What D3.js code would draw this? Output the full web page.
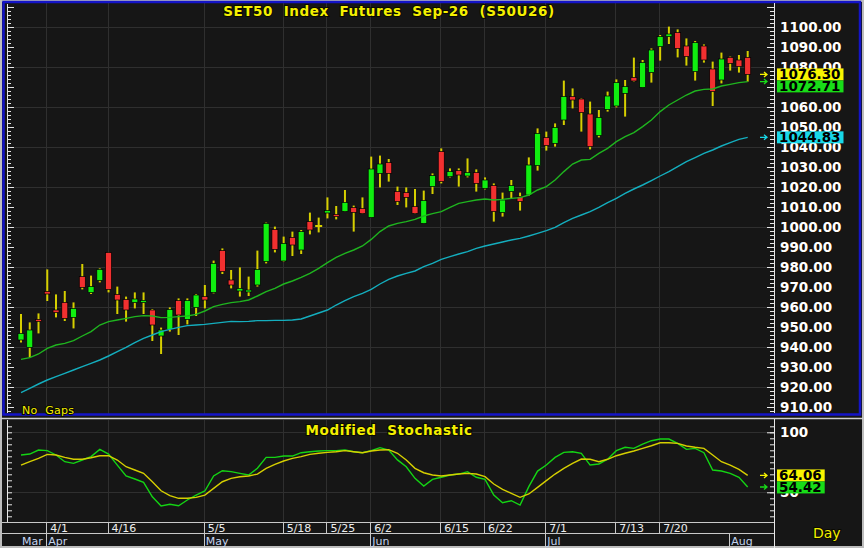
<!DOCTYPE html>
<html>
<head>
<meta charset="utf-8">
<script src="https://cdn.jsdelivr.net/npm/d3@7"></script>
<style>
  body { margin: 0; background: #161616; }
  svg text { font-family: "DejaVu Sans", Verdana, sans-serif; }
</style>
</head>
<body>
<div id="chart"></div>
<script>
// trading days shown on the chart
const dates = [
  '3/27', '3/30', '3/31', '4/1', '4/2', '4/3', '4/7', '4/8', '4/9', '4/10',
  '4/16', '4/17', '4/20', '4/21', '4/22', '4/23', '4/24', '4/27', '4/28', '4/29',
  '4/30', '5/5', '5/6', '5/7', '5/8', '5/11', '5/12', '5/13', '5/14', '5/15',
  '5/18', '5/19', '5/20', '5/21', '5/22', '5/25', '5/26', '5/27', '5/28', '5/29',
  '6/2', '6/4', '6/5', '6/8', '6/9', '6/10', '6/11', '6/12', '6/15', '6/16',
  '6/17', '6/18', '6/19', '6/22', '6/23', '6/24', '6/25', '6/26', '6/29', '6/30',
  '7/1', '7/2', '7/3', '7/6', '7/7', '7/8', '7/9', '7/10', '7/13', '7/14',
  '7/15', '7/16', '7/17', '7/20', '7/21', '7/22', '7/23', '7/24', '7/27', '7/30',
  '7/31', '8/3', '8/4', '8/5',
];

const open = [
  943.5, 939.8, 953.8, 967.8, 958.5, 962.3, 954.8, 975.2, 967.2, 973.2,
  987.2, 966.3, 963.8, 962.2, 962.2, 958.5, 945.5, 948.8, 963.2, 953.8,
  959.7, 965.2, 967.3, 988.2, 973.5, 968.0, 967.5, 971.0, 982.7, 998.8,
  983.0, 994.8, 988.5, 1002.7, 1000.5, 1007.0, 1006.3, 1007.8, 1009.7, 1009.2,
  1004.8, 1026.8, 1032.2, 1017.7, 1017.2, 1010.2, 1001.8, 1020.2, 1037.7, 1025.2,
  1028.2, 1025.5, 1027.2, 1019.3, 1020.7, 1007.2, 1017.7, 1015.2, 1016.0, 1030.7,
  1044.7, 1041.8, 1053.5, 1065.2, 1064.0, 1056.5, 1045.7, 1058.8, 1060.5, 1066.8,
  1074.8, 1069.8, 1077.2, 1090.2, 1095.2, 1097.2, 1090.5, 1077.7, 1090.5, 1079.0,
  1073.5, 1084.8, 1083.5, 1084.8,
];
const high = [
  956.5, 952.3, 956.8, 978.8, 966.3, 968.0, 962.3, 981.5, 975.7, 979.3,
  987.3, 970.2, 965.2, 967.3, 967.3, 959.0, 949.7, 959.8, 964.3, 964.3,
  966.5, 971.0, 983.2, 989.3, 978.5, 979.8, 975.2, 988.2, 1002.2, 1000.2,
  995.2, 997.7, 998.5, 1007.2, 1004.7, 1014.8, 1010.5, 1018.5, 1010.7, 1014.8,
  1035.2, 1035.7, 1034.0, 1020.2, 1019.8, 1019.0, 1018.2, 1026.8, 1039.3, 1029.3,
  1029.3, 1034.3, 1028.8, 1024.8, 1021.8, 1017.2, 1023.5, 1017.2, 1034.8, 1049.3,
  1047.7, 1051.8, 1073.2, 1069.3, 1064.3, 1062.7, 1058.5, 1067.7, 1073.8, 1073.5,
  1084.7, 1083.5, 1089.3, 1096.0, 1100.2, 1098.8, 1094.3, 1093.0, 1091.3, 1082.7,
  1087.2, 1085.2, 1086.0, 1088.0,
];
const low = [
  942.2, 934.8, 946.8, 963.0, 954.8, 953.0, 949.3, 968.8, 966.5, 972.3,
  967.3, 956.5, 952.7, 959.3, 956.5, 943.0, 936.5, 947.7, 946.0, 951.3,
  955.5, 959.3, 966.8, 976.5, 969.3, 965.2, 965.5, 970.2, 981.8, 987.3,
  982.7, 985.5, 986.5, 996.3, 997.3, 1004.3, 1003.8, 1007.7, 997.7, 1006.5,
  1004.8, 1019.8, 1022.7, 1011.0, 1009.8, 1006.5, 1001.8, 1016.5, 1021.8, 1024.8,
  1020.2, 1024.8, 1017.7, 1018.8, 1002.7, 1005.2, 1014.3, 1008.2, 1015.5, 1028.2,
  1038.2, 1040.2, 1051.0, 1059.3, 1047.7, 1038.8, 1044.8, 1057.7, 1059.8, 1055.2,
  1072.7, 1069.8, 1072.2, 1083.2, 1091.5, 1084.8, 1080.7, 1073.2, 1082.2, 1060.5,
  1071.8, 1078.2, 1077.2, 1072.7,
];
const close = [
  946.8, 948.5, 953.2, 966.5, 957.2, 954.3, 959.3, 969.8, 970.2, 978.8,
  968.8, 963.5, 958.5, 964.0, 963.3, 951.0, 948.5, 958.8, 956.0, 963.2,
  966.0, 963.5, 981.8, 977.7, 971.0, 969.3, 968.5, 978.8, 1001.8, 988.8,
  991.8, 991.0, 997.7, 998.5, 1000.5, 1008.2, 1005.2, 1012.3, 1007.3, 1006.8,
  1029.0, 1031.5, 1026.8, 1012.7, 1014.8, 1006.8, 1013.2, 1025.7, 1022.7, 1027.7,
  1026.0, 1027.2, 1021.8, 1023.5, 1007.7, 1013.5, 1020.7, 1012.7, 1031.0, 1046.8,
  1040.7, 1049.8, 1065.2, 1063.5, 1057.2, 1040.2, 1054.8, 1065.5, 1072.2, 1070.2,
  1073.0, 1082.2, 1088.5, 1095.2, 1096.5, 1089.3, 1085.2, 1092.2, 1083.5, 1067.7,
  1084.0, 1081.8, 1080.2, 1076.3,
];

// moving averages
const maFast = [
  933.8, 934.7, 936.5, 939.3, 941.0, 941.8, 943.2, 945.5, 947.7, 951.0,
  952.7, 953.5, 954.3, 955.2, 955.7, 955.5, 954.7, 954.8, 955.2, 955.5,
  956.3, 958.0, 960.2, 961.3, 962.2, 962.7, 963.5, 965.5, 967.7, 969.3,
  971.5, 973.0, 974.8, 976.8, 979.3, 982.2, 984.8, 986.8, 988.5, 990.5,
  993.8, 997.7, 1000.5, 1001.8, 1002.7, 1003.8, 1005.5, 1006.7, 1007.7, 1009.8,
  1011.8, 1012.7, 1013.5, 1014.0, 1013.5, 1013.8, 1014.3, 1014.7, 1016.0, 1018.5,
  1020.2, 1023.5, 1027.7, 1031.5, 1033.5, 1033.8, 1036.8, 1039.3, 1042.7, 1045.2,
  1047.2, 1050.2, 1053.5, 1057.7, 1061.0, 1063.5, 1066.0, 1068.0, 1068.8, 1069.0,
  1070.5, 1071.3, 1072.2, 1072.71,
];
const maSlow = [
  917.2, 919.3, 921.5, 923.5, 925.2, 926.8, 928.5, 930.2, 931.8, 933.5,
  935.5, 937.7, 939.8, 942.2, 944.3, 946.0, 947.7, 948.8, 949.8, 950.7,
  951.0, 951.3, 951.8, 952.3, 952.8, 952.7, 952.8, 953.2, 953.2, 953.3,
  953.3, 953.5, 954.0, 955.5, 957.0, 958.5, 961.0, 963.2, 965.2, 966.8,
  968.8, 971.5, 973.8, 975.5, 976.8, 978.0, 980.2, 981.8, 983.8, 985.2,
  986.5, 987.7, 989.3, 990.5, 991.5, 992.5, 993.5, 994.3, 995.5, 996.8,
  998.2, 999.8, 1002.2, 1004.3, 1006.0, 1007.7, 1009.8, 1012.2, 1014.3, 1016.8,
  1019.0, 1021.0, 1023.2, 1025.5, 1027.7, 1030.2, 1032.7, 1034.7, 1036.8, 1038.5,
  1040.5, 1042.2, 1043.8, 1044.83,
];

// modified stochastic
const stochK = [
  81.1, 81.9, 85.2, 84.7, 81.1, 75.5, 74.1, 76.9, 79.7, 85.8,
  81.9, 72.7, 63.6, 61.1, 58.3, 46.3, 38.6, 40.0, 38.8, 43.6,
  47.7, 51.1, 63.6, 68.0, 67.2, 65.8, 64.4, 70.0, 79.1, 79.1,
  80.2, 80.2, 83.0, 83.8, 84.4, 84.7, 84.7, 85.2, 83.8, 83.0,
  84.7, 87.2, 85.2, 77.0, 71.3, 61.6, 55.2, 60.8, 62.5, 64.4,
  65.2, 67.2, 62.5, 60.8, 47.7, 41.3, 43.0, 39.4, 54.7, 67.7,
  72.7, 79.1, 83.3, 83.8, 82.5, 72.7, 73.6, 77.5, 84.7, 87.5,
  86.6, 90.2, 93.0, 94.4, 94.4, 90.8, 85.8, 86.6, 83.0, 68.6,
  67.7, 65.8, 62.5, 54.42,
];
const stochD = [
  72.7, 75.5, 78.3, 81.6, 81.1, 79.1, 77.5, 77.5, 78.8, 80.5,
  80.5, 76.9, 71.3, 68.6, 65.8, 58.8, 51.3, 47.2, 45.0, 45.0,
  45.8, 47.7, 53.3, 58.8, 61.6, 63.0, 63.6, 65.2, 70.0, 73.3,
  76.1, 78.3, 79.7, 81.6, 82.5, 83.3, 83.8, 84.7, 83.8, 83.0,
  84.4, 85.2, 85.5, 82.5, 76.9, 70.0, 66.3, 64.4, 63.6, 64.4,
  65.2, 65.8, 65.2, 63.0, 56.9, 52.5, 49.1, 45.8, 48.6, 54.1,
  59.7, 65.2, 70.0, 74.1, 77.7, 77.5, 75.5, 77.5, 80.5, 82.5,
  84.4, 86.6, 88.8, 91.3, 91.3, 90.8, 88.6, 87.5, 86.6, 81.1,
  75.5, 72.7, 69.1, 64.06,
];

const dayTicks = ['4/1', '4/16', '5/5', '5/18', '5/25', '6/2', '6/15', '6/22', '7/1', '7/13', '7/20'];
const monthNames = ['Mar', 'Apr', 'May', 'Jun', 'Jul', 'Aug'];
const monthStarts = ['3/27', '4/1', '5/5', '6/2', '7/1', '8/3'];

const title = 'SET50  Index  Futures  Sep-26  (S50U26)';
const stochTitle = 'Modified  Stochastic';

const width = 864;
const height = 548;
const plotL = 8;
const plotR = 774;
const price = { top: 3, bottom: 414 };
const stoch = { top: 420, bottom: 522 };

const svg = d3.select('#chart')
  .append('svg')
  .attr('width', width)
  .attr('height', height);

svg.append('rect')
  .attr('width', width)
  .attr('height', height)
  .attr('fill', '#161616');

const x = d3.scalePoint()
  .domain(dates)
  .range([21, 747.7]);

const y = d3.scaleLinear()
  .domain([910, 1100])
  .range([407, 27]);

const ys = d3.scaleLinear()
  .domain([50, 100])
  .range([492.3, 432.3]);

const defs = svg.append('defs');
defs.append('clipPath').attr('id', 'clipPrice')
  .append('rect')
  .attr('x', plotL).attr('y', price.top)
  .attr('width', plotR - plotL).attr('height', price.bottom - price.top);
defs.append('clipPath').attr('id', 'clipStoch')
  .append('rect')
  .attr('x', plotL).attr('y', stoch.top)
  .attr('width', plotR - plotL).attr('height', stoch.bottom - stoch.top);

// grid
const grid = svg.append('g').attr('stroke', '#2f2f2f').attr('stroke-width', 1);
grid.selectAll('.hp')
  .data(d3.range(920, 1101, 20))
  .join('line')
    .attr('x1', plotL).attr('x2', plotR)
    .attr('y1', d => Math.round(y(d)) + 0.5)
    .attr('y2', d => Math.round(y(d)) + 0.5);
grid.selectAll('.hs')
  .data([50, 100])
  .join('line')
    .attr('x1', plotL).attr('x2', plotR)
    .attr('y1', d => Math.round(ys(d)) + 0.5)
    .attr('y2', d => Math.round(ys(d)) + 0.5);
[price, stoch].forEach((p) => {
  grid.append('g').selectAll('line')
    .data(dayTicks)
    .join('line')
      .attr('x1', d => Math.round(x(d)) - 0.5)
      .attr('x2', d => Math.round(x(d)) - 0.5)
      .attr('y1', p.top)
      .attr('y2', p.bottom);
});

// candles
const bars = dates.map((d, i) => ({
  date: d, o: open[i], h: high[i], l: low[i], c: close[i],
}));

const candles = svg.append('g').attr('clip-path', 'url(#clipPrice)');

candles.selectAll('.wick')
  .data(bars)
  .join('line')
    .attr('x1', d => x(d.date))
    .attr('x2', d => x(d.date))
    .attr('y1', d => y(d.h))
    .attr('y2', d => y(d.l))
    .attr('stroke', '#d6cf00')
    .attr('stroke-width', 2);

candles.selectAll('.body')
  .data(bars.filter(d => Math.abs(d.o - d.c) >= 0.3))
  .join('rect')
    .attr('x', d => x(d.date) - 3)
    .attr('y', d => y(Math.max(d.o, d.c)))
    .attr('width', 6)
    .attr('height', d => Math.max(2, y(Math.min(d.o, d.c)) - y(Math.max(d.o, d.c))))
    .attr('fill', d => (d.c > d.o ? '#10ee10' : '#f23030'))
    .attr('stroke', '#000')
    .attr('stroke-width', 0.7);

// doji
candles.selectAll('.doji')
  .data(bars.filter(d => Math.abs(d.o - d.c) < 0.3))
  .join('line')
    .attr('x1', d => x(d.date) - 3.5)
    .attr('x2', d => x(d.date) + 3.5)
    .attr('y1', d => y(d.c))
    .attr('y2', d => y(d.c))
    .attr('stroke', '#d6cf00')
    .attr('stroke-width', 2);

const maLine = vals => d3.line()
  .x((d, i) => x(dates[i]))
  .y(d => y(d))(vals);

candles.append('path')
  .attr('d', maLine(maSlow))
  .attr('fill', 'none')
  .attr('stroke', '#14aebe')
  .attr('stroke-width', 1.4);

candles.append('path')
  .attr('d', maLine(maFast))
  .attr('fill', 'none')
  .attr('stroke', '#1fb51f')
  .attr('stroke-width', 1.4);

// stochastic lines
const stochG = svg.append('g').attr('clip-path', 'url(#clipStoch)');
const stLine = d3.line()
  .x((d, i) => x(dates[i]))
  .y(d => ys(d));

stochG.append('path')
  .attr('d', stLine(stochK))
  .attr('fill', 'none')
  .attr('stroke', '#14d414')
  .attr('stroke-width', 1.4);
stochG.append('path')
  .attr('d', stLine(stochD))
  .attr('fill', 'none')
  .attr('stroke', '#d6cf00')
  .attr('stroke-width', 1.4);

// axes
function tickAxis(axis, tx, values, size) {
  const g = svg.append('g')
    .attr('transform', `translate(${tx},0)`)
    .call(axis.tickValues(values).tickSize(size).tickFormat(''));
  g.select('.domain').remove();
  g.selectAll('line').attr('stroke', '#e8e8e8');
}

tickAxis(d3.axisLeft(y), plotR, d3.range(908, 1112, 2), 4);
tickAxis(d3.axisLeft(y), plotR, d3.range(910, 1111, 10), 7);
tickAxis(d3.axisRight(y), plotL, d3.range(908, 1112, 2), 3);
tickAxis(d3.axisRight(y), plotL, d3.range(910, 1111, 10), 6);
tickAxis(d3.axisLeft(ys), plotR, d3.range(30, 110, 5), 4);
tickAxis(d3.axisLeft(ys), plotR, [50, 100], 7);
tickAxis(d3.axisRight(ys), plotL, d3.range(30, 110, 5), 4);

function labelAxis(scale, values, fmt) {
  const g = svg.append('g')
    .attr('transform', `translate(${plotR},0)`)
    .call(d3.axisRight(scale).tickValues(values).tickSize(0).tickPadding(6).tickFormat(fmt));
  g.select('.domain').remove();
  g.selectAll('text')
    .attr('fill', '#ffffff')
    .attr('stroke', '#1a1208')
    .attr('stroke-width', 2.2)
    .attr('paint-order', 'stroke')
    .style('font-size', '13.5px')
    .style('font-weight', 'bold')
    .style('font-family', '"DejaVu Sans", Verdana, sans-serif');
}

labelAxis(y, d3.range(910, 1101, 10), d3.format('.2f'));
labelAxis(ys, [50, 100], d3.format('d'));

// frames
svg.append('rect')
  .attr('x', 1).attr('y', 1)
  .attr('width', width - 2).attr('height', height - 2)
  .attr('fill', 'none')
  .attr('stroke', '#bdbdbd')
  .attr('stroke-width', 2);

svg.append('rect')
  .attr('x', 3.5).attr('y', 2)
  .attr('width', 856.5).attr('height', 412.5)
  .attr('fill', 'none')
  .attr('stroke', '#1414c8')
  .attr('stroke-width', 2.5);

svg.append('line')
  .attr('x1', 1).attr('x2', width - 1)
  .attr('y1', 418.5).attr('y2', 418.5)
  .attr('stroke', '#cfcfcf')
  .attr('stroke-width', 1.5);

svg.append('g')
  .attr('stroke', '#e8e8e8')
  .selectAll('line')
  .data([
    [plotR + 0.5, price.top, plotR + 0.5, price.bottom - 1],
    [plotR + 0.5, 419, plotR + 0.5, height],
    [plotL - 0.5, price.top + 1, plotL - 0.5, price.bottom - 1],
    [plotL - 0.5, stoch.top, plotL - 0.5, stoch.bottom],
  ])
  .join('line')
    .attr('x1', d => d[0]).attr('y1', d => d[1])
    .attr('x2', d => d[2]).attr('y2', d => d[3]);

// date rows
const rows = svg.append('g');
rows.selectAll('.rowline')
  .data([522.5, 533.5])
  .join('line')
    .attr('x1', 2).attr('x2', plotR)
    .attr('y1', d => d).attr('y2', d => d)
    .attr('stroke', '#c8c8c8');

rows.selectAll('.daysep')
  .data(dayTicks)
  .join('line')
    .attr('x1', d => Math.round(x(d)) - 0.5)
    .attr('x2', d => Math.round(x(d)) - 0.5)
    .attr('y1', 522.5).attr('y2', 533.5)
    .attr('stroke', '#c8c8c8');

rows.selectAll('.daylbl')
  .data(dayTicks)
  .join('text')
    .attr('x', d => x(d) + 3)
    .attr('y', 532)
    .attr('fill', '#ececec')
    .style('font-size', '11px')
    .text(d => d);

rows.selectAll('.monsep')
  .data(monthStarts.slice(1))
  .join('line')
    .attr('x1', d => Math.round(x(d)) - 0.5)
    .attr('x2', d => Math.round(x(d)) - 0.5)
    .attr('y1', 533.5).attr('y2', height)
    .attr('stroke', '#c8c8c8');

rows.selectAll('.monlbl')
  .data(monthNames)
  .join('text')
    .attr('x', (d, i) => (i === 0 ? 22 : x(monthStarts[i]) + 1))
    .attr('y', 545)
    .attr('fill', '#c4d4f0')
    .style('font-size', '11px')
    .text(d => d);

// titles and notes
function yellowText(txt, tx, ty, size, anchor, bold, spacing) {
  svg.append('text')
    .attr('x', tx)
    .attr('y', ty)
    .attr('text-anchor', anchor)
    .attr('fill', '#f4f000')
    .attr('stroke', '#0a0a00')
    .attr('stroke-width', 2)
    .attr('paint-order', 'stroke')
    .style('font-size', `${size}px`)
    .style('font-weight', bold ? 'bold' : 'normal')
    .style('letter-spacing', `${spacing}px`)
    .style('white-space', 'pre')
    .text(txt);
}

yellowText(title, 389, 16, 13.5, 'middle', true, 0.6);
yellowText(stochTitle, 389, 435, 13.5, 'middle', true, 0.6);
yellowText('No  Gaps', 22, 413.5, 11, 'start', false, 0.3);
yellowText('Day', 813, 538, 14, 'start', false, 0);

// last value tags
function valueTags(items) {
  const boxH = 12;
  items.sort((a, b) => a.y - b.y);
  let prevBottom = -Infinity;
  items.forEach((d) => {
    d.top = Math.max(d.y - boxH / 2, prevBottom);
    prevBottom = d.top + boxH;
  });
  const g = svg.append('g');
  items.forEach((d) => {
    const t = g.append('text')
      .attr('x', plotR + 5)
      .attr('y', d.top + boxH / 2 + 5)
      .attr('fill', '#000')
      .style('font-size', '13.5px')
      .style('font-weight', 'bold')
      .text(d.label);
    const w = t.node().getComputedTextLength();
    g.insert('rect', 'text')
      .attr('x', plotR + 3)
      .attr('y', d.top)
      .attr('width', w + 5)
      .attr('height', boxH)
      .attr('fill', d.color);
    g.append('path')
      .attr('d', `M${plotR - 14},${d.y}H${plotR - 7}M${plotR - 10},${d.y - 2.5}L${plotR - 7},${d.y}L${plotR - 10},${d.y + 2.5}`)
      .attr('fill', 'none')
      .attr('stroke', d.color)
      .attr('stroke-width', 1.3);
  });
}

valueTags([
  { y: y(close[close.length - 1]), label: d3.format('.2f')(close[close.length - 1]), color: '#f8f400' },
  { y: y(maFast[maFast.length - 1]), label: d3.format('.2f')(maFast[maFast.length - 1]), color: '#18dc18' },
  { y: y(maSlow[maSlow.length - 1]), label: d3.format('.2f')(maSlow[maSlow.length - 1]), color: '#18d8e8' },
]);
valueTags([
  { y: ys(stochD[stochD.length - 1]), label: d3.format('.2f')(stochD[stochD.length - 1]), color: '#f8f400' },
  { y: ys(stochK[stochK.length - 1]), label: d3.format('.2f')(stochK[stochK.length - 1]), color: '#18dc18' },
]);
</script>
</body>
</html>
